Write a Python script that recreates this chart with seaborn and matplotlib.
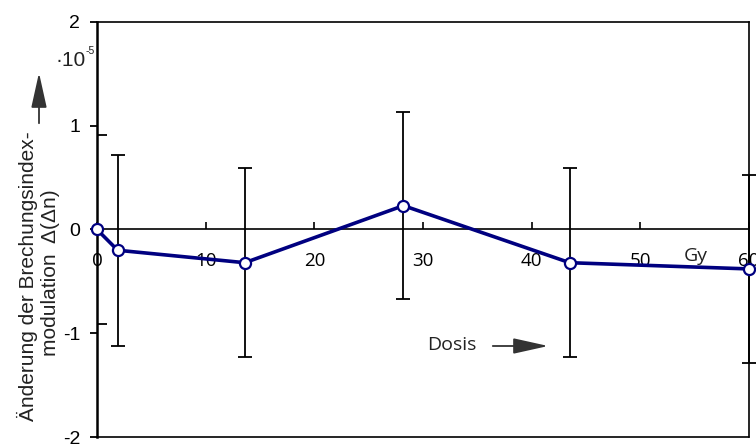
import numpy as np
import pandas as pd
import seaborn as sns
import matplotlib.pyplot as plt

# Dose (Gy) and change of the refractive-index modulation (units of 1e-5)
dose_gy = [0.0, 1.9, 13.6, 28.2, 43.5, 60.0]
delta_dn = [0.0, -0.20, -0.32, 0.23, -0.32, -0.38]
delta_err = [0.0, 0.92, 0.91, 0.90, 0.91, 0.91]

x_ticks = [0, 10, 20, 30, 40, 50, 60]
y_ticks = [-2, -1, 0, 1, 2]
y_tick_labels = ["-2", "-1", "0", "1", "2"]
y_inner_ticks = [-0.91, 0.91]

sns.set_theme(style="white")
plt.rcParams["font.family"] = ["Liberation Sans", "DejaVu Sans"]
plt.rcParams["axes.unicode_minus"] = False

W, H = 756, 444
fig = plt.figure(figsize=(W / 100, H / 100), dpi=100)
ax = fig.add_axes([97 / W, 7 / H, 652 / W, 415 / H])


def fpx(x, y):
    """Figure-fraction position from pixel position measured from the top-left."""
    return x / W, 1 - y / H


df = pd.DataFrame({"Dosis": dose_gy, "dn": delta_dn, "err": delta_err})
with_err = df[df["err"] > 0]

ax.errorbar(with_err["Dosis"], with_err["dn"], yerr=with_err["err"], fmt="none",
            ecolor="black", elinewidth=1.3, capsize=5, capthick=1.3,
            zorder=2, clip_on=False)
sns.lineplot(data=df, x="Dosis", y="dn", ax=ax, color="#000080", lw=2.6,
             marker="o", markersize=8, markerfacecolor="white",
             markeredgecolor="#000080", markeredgewidth=1.6,
             zorder=3, clip_on=False)

ax.set_xlim(0, 60)
ax.set_ylim(-2, 2)
ax.set_xlabel("")
ax.set_ylabel("")

# frame; the x axis runs through zero
for side in ["left", "right", "top", "bottom"]:
    ax.spines[side].set_visible(True)
    ax.spines[side].set_color("black")
    ax.spines[side].set_linewidth(1.2)
ax.spines["left"].set_linewidth(1.8)
ax.spines["bottom"].set_position(("data", 0))
ax.plot([0, 1], [0, 0], transform=ax.transAxes, color="black", lw=1.2,
        clip_on=False, zorder=5)

ax.set_xticks(x_ticks)
ax.set_xticklabels([str(t) for t in x_ticks], fontfamily="Open Sans", fontsize=13.5)
ax.tick_params(axis="x", direction="in", length=5, width=1.2, pad=16,
               bottom=True, top=False, colors="black")
ax.set_yticks(y_ticks)
ax.set_yticklabels(y_tick_labels, fontsize=14)
ax.set_yticks(y_inner_ticks, minor=True)
ax.tick_params(axis="y", which="major", direction="out", length=5, width=1.3,
               pad=7, left=True, right=False, colors="black")
ax.tick_params(axis="y", which="minor", direction="in", length=7, width=1.3,
               left=True, right=False, colors="black")

# axis annotations
fig.text(*fpx(27, 276), "Änderung der Brechungsindex-", rotation=90,
         ha="center", va="center", fontsize=15, color="#222222")
fig.text(*fpx(51, 273), "modulation  Δ(Δn)", rotation=90,
         ha="center", va="center", fontsize=15, color="#222222")
fig.text(*fpx(86, 61), "·10", ha="right", va="center", fontsize=15, color="#222222")
fig.text(*fpx(86, 51), "-5", ha="left", va="center", fontsize=7.5, color="#222222")

head = "-|>,head_length=1.08,head_width=0.24"
ax.annotate("", xy=fpx(39, 70), xytext=fpx(39, 126), xycoords="figure fraction",
            textcoords="figure fraction",
            arrowprops=dict(arrowstyle=head, mutation_scale=20,
                            color="#333333", lw=1.3))

fig.text(*fpx(452, 345), "Dosis", ha="center", va="center",
         fontfamily="Open Sans", fontsize=14, color="#222222")
ax.annotate("", xy=fpx(551, 346), xytext=fpx(490, 346), xycoords="figure fraction",
            textcoords="figure fraction",
            arrowprops=dict(arrowstyle=head, mutation_scale=20,
                            color="#333333", lw=1.3))
fig.text(*fpx(696, 256), "Gy", ha="center", va="center",
         fontfamily="Open Sans", fontsize=14, color="#222222")

fig.savefig("out.png", dpi=100, facecolor="white")
